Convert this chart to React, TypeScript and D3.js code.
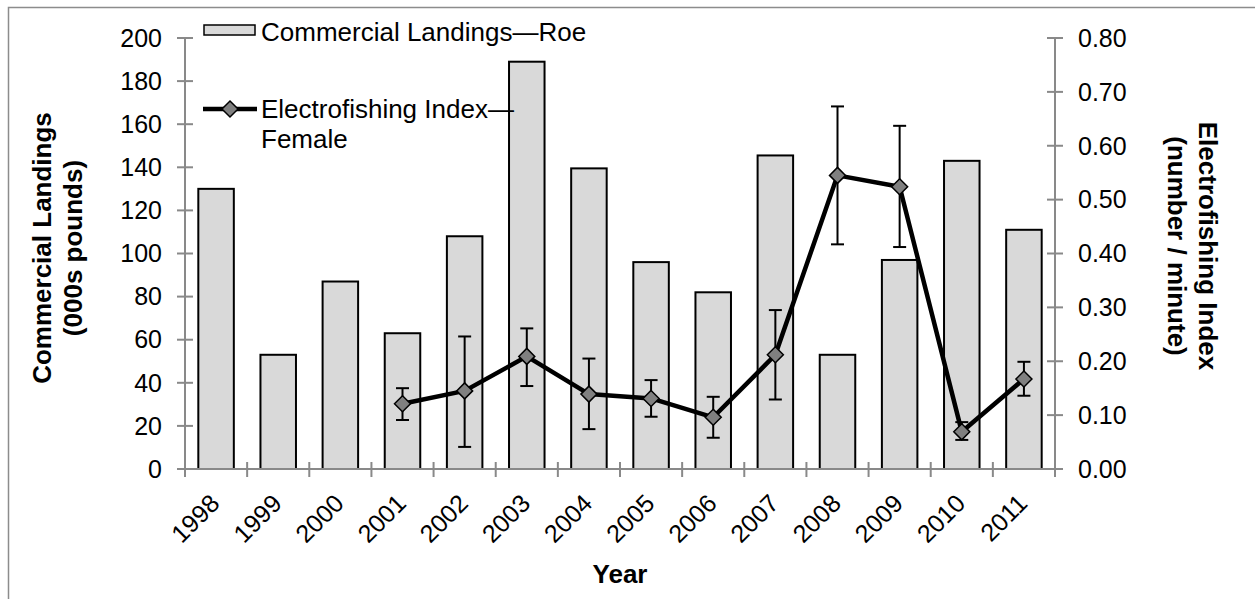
import * as d3 from 'd3';
import React from 'react';

const years = ['1998', '1999', '2000', '2001', '2002', '2003', '2004', '2005', '2006', '2007', '2008', '2009', '2010', '2011'];
const landings = [130, 53, 87, 63, 108, 189, 139.5, 96, 82, 145.5, 53, 97, 143, 111];

const indexYears = ['2001', '2002', '2003', '2004', '2005', '2006', '2007', '2008', '2009', '2010', '2011'];
const indexValues = [0.121, 0.145, 0.209, 0.139, 0.131, 0.096, 0.212, 0.545, 0.524, 0.069, 0.167];
const indexLow = [0.091, 0.041, 0.154, 0.074, 0.097, 0.058, 0.129, 0.417, 0.412, 0.054, 0.136];
const indexHigh = [0.150, 0.246, 0.261, 0.205, 0.165, 0.134, 0.295, 0.673, 0.637, 0.087, 0.199];

const leftTicks = [0, 20, 40, 60, 80, 100, 120, 140, 160, 180, 200];
const rightTicks = [0, 0.1, 0.2, 0.3, 0.4, 0.5, 0.6, 0.7, 0.8];

const W = 1255;
const H = 599;
const left = 185;
const right = 1055;
const top = 38;
const bottom = 469;
const font = '"Liberation Sans", Arial, sans-serif';
const axisColor = '#898989';

const App: React.FC = () => {
  document.body.style.margin = '0';
  document.body.style.overflow = 'hidden';

  const x = d3.scaleBand<string>().domain(years).range([left, right]).padding(0);
  const yL = d3.scaleLinear().domain([0, 200]).range([bottom, top]);
  const yR = d3.scaleLinear().domain([0, 0.8]).range([bottom, top]);
  const bw = x.bandwidth() / 1.75;
  const cx = (yr: string) => (x(yr) as number) + x.bandwidth() / 2;

  const line = d3.line<number>()
    .x((d, i) => cx(indexYears[i]))
    .y(d => yR(d));

  const diamond = (px: number, py: number, r: number) =>
    `M${px},${py - r}L${px + r},${py}L${px},${py + r}L${px - r},${py}Z`;

  return (
    <svg width={W} height={H} style={{position: 'absolute', left: 0, top: 0, fontFamily: font}}>
      <rect x={0} y={0} width={W} height={H} fill='#fff'/>
      <rect x={8.5} y={7.5} width={W + 20} height={H + 20} fill='none' stroke='#8c8c8c' strokeWidth={1.5}/>

      {/* bars */}
      {landings.map((v, i) => (
        <rect key={years[i]}
              x={cx(years[i]) - bw / 2} y={yL(v)}
              width={bw} height={bottom - yL(v)}
              fill='#d9d9d9' stroke='#000' strokeWidth={2}/>
      ))}

      {/* axes */}
      <line x1={left} x2={left} y1={top} y2={bottom} stroke={axisColor} strokeWidth={2}/>
      <line x1={right} x2={right} y1={top} y2={bottom} stroke={axisColor} strokeWidth={2}/>
      <line x1={left - 8} x2={right + 8} y1={bottom} y2={bottom} stroke={axisColor} strokeWidth={2}/>
      {leftTicks.map(t => (
        <g key={'l' + t}>
          <line x1={left - 8} x2={left + 8} y1={yL(t)} y2={yL(t)} stroke={axisColor} strokeWidth={2}/>
          <text x={162} y={yL(t)} dy='0.35em' textAnchor='end' fontSize={25}>{t}</text>
        </g>
      ))}
      {rightTicks.map(t => (
        <g key={'r' + t}>
          <line x1={right - 8} x2={right + 8} y1={yR(t)} y2={yR(t)} stroke={axisColor} strokeWidth={2}/>
          <text x={1078} y={yR(t)} dy='0.35em' textAnchor='start' fontSize={25}>{t.toFixed(2)}</text>
        </g>
      ))}
      {[...years.map(yr => x(yr) as number), right].map((p, i) => (
        <line key={'xt' + i} x1={p} x2={p} y1={bottom - 7} y2={bottom + 8} stroke={axisColor} strokeWidth={2}/>
      ))}
      {years.map(yr => (
        <text key={'xl' + yr} fontSize={25} textAnchor='end'
              transform={`translate(${cx(yr) + 5},${505}) rotate(-45)`}>{yr}</text>
      ))}

      {/* axis titles */}
      <text fontSize={26} fontWeight='bold' textAnchor='middle' x={620} y={583}>Year</text>
      <text fontSize={26} fontWeight='bold' textAnchor='middle' transform='translate(51,248) rotate(-90)'>Commercial Landings</text>
      <text fontSize={26} fontWeight='bold' textAnchor='middle' transform='translate(82,248) rotate(-90)'>(000s pounds)</text>
      <text fontSize={26} fontWeight='bold' textAnchor='middle' transform='translate(1199,246) rotate(90)'>Electrofishing Index</text>
      <text fontSize={26} fontWeight='bold' textAnchor='middle' transform='translate(1168,246) rotate(90)'>(number / minute)</text>

      {/* error bars */}
      {indexYears.map((yr, i) => (
        <g key={'e' + yr} stroke='#000' strokeWidth={2}>
          <line x1={cx(yr)} x2={cx(yr)} y1={yR(indexHigh[i])} y2={yR(indexLow[i])}/>
          <line x1={cx(yr) - 6.5} x2={cx(yr) + 6.5} y1={yR(indexHigh[i])} y2={yR(indexHigh[i])}/>
          <line x1={cx(yr) - 6.5} x2={cx(yr) + 6.5} y1={yR(indexLow[i])} y2={yR(indexLow[i])}/>
        </g>
      ))}

      {/* index line and markers */}
      <path d={line(indexValues) ?? ''} fill='none' stroke='#000' strokeWidth={4.5} strokeLinejoin='round'/>
      {indexYears.map((yr, i) => (
        <path key={'m' + yr} d={diamond(cx(yr), yR(indexValues[i]), 8)}
              fill='#808080' stroke='#000' strokeWidth={1.5}/>
      ))}

      {/* legend */}
      <rect x={204} y={25} width={51} height={10} fill='#d9d9d9' stroke='#000' strokeWidth={1.5}/>
      <text x={261} y={41} fontSize={26}>Commercial Landings—Roe</text>
      <line x1={203} x2={257} y1={109} y2={109} stroke='#000' strokeWidth={4.5}/>
      <path d={diamond(230, 109, 8)} fill='#808080' stroke='#000' strokeWidth={1.5}/>
      <text x={261} y={118} fontSize={26}>Electrofishing Index—</text>
      <text x={261} y={148} fontSize={26}>Female</text>
    </svg>
  );
};

export default App;
